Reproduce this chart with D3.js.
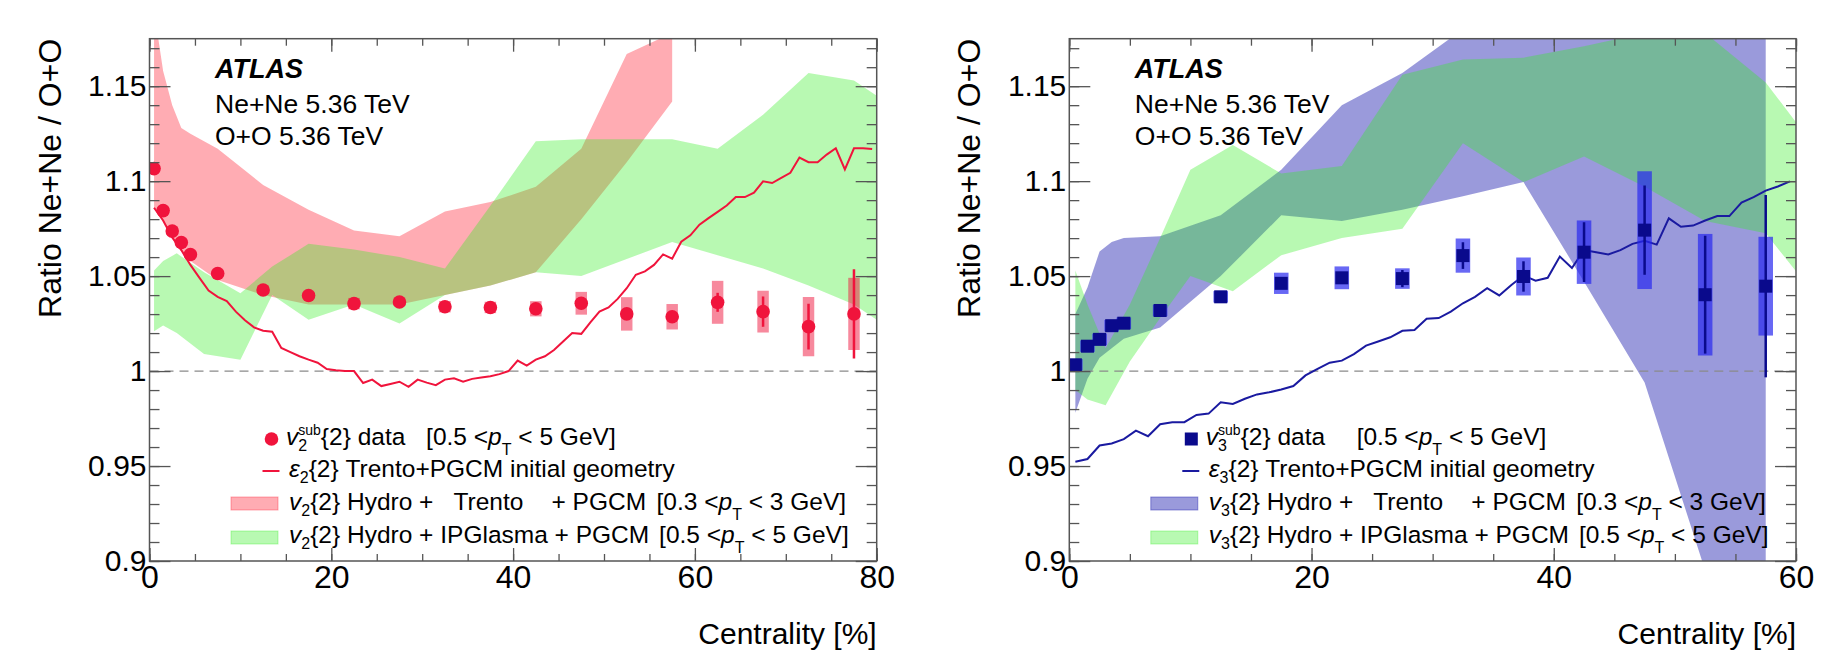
<!DOCTYPE html>
<html>
<head>
<meta charset="utf-8">
<script src="https://cdn.jsdelivr.net/npm/d3@7"></script>
<style>
body { margin: 0; background: #fff; }
text { font-family: "Liberation Sans", Arial, Helvetica, sans-serif; fill: #000; }
</style>
</head>
<body>
<script>
// ---- left panel: v2 ratio Ne+Ne / O+O ----
var v2Cent  = [0.5, 1.5, 2.5, 3.5, 4.5, 7.5, 12.5, 17.5, 22.5, 27.5, 32.5, 37.5, 42.5, 47.5, 52.5, 57.5, 62.5, 67.5, 72.5, 77.5];
var v2Ratio = [1.1066, 1.0845, 1.0737, 1.0677, 1.0614, 1.0514, 1.0427, 1.0398, 1.0355, 1.0364, 1.0339, 1.0335, 1.0328, 1.0357, 1.0301, 1.0286, 1.0362, 1.0313, 1.0234, 1.0301];
var v2Stat  = [0.001, 0.001, 0.001, 0.001, 0.001, 0.001, 0.001, 0.001, 0.001, 0.001, 0.001, 0.002, 0.002, 0.003, 0.003, 0.003, 0.005, 0.008, 0.012, 0.0235];
var v2Syst  = [0.002, 0.002, 0.002, 0.002, 0.002, 0.002, 0.002, 0.002, 0.003, 0.002, 0.003, 0.003, 0.004, 0.006, 0.0088, 0.0067, 0.0113, 0.011, 0.0156, 0.019];

// eps2{2} Trento+PGCM, 1% bins 0-80
var eps2 = [1.086, 1.0793, 1.0704, 1.0637, 1.0559, 1.0491, 1.0424, 1.0391, 1.0368, 1.0313,
            1.0268, 1.023, 1.0212, 1.0207, 1.0122, 1.01, 1.0078, 1.006, 1.0044, 1.0011,
            1.0004, 1.0, 1.0, 0.9937, 0.9955, 0.9921, 0.9932, 0.9944, 0.9917, 0.9955,
            0.9939, 0.9926, 0.9955, 0.9962, 0.9944, 0.9959, 0.9966, 0.9973, 0.9984, 1.0,
            1.0055, 1.0029, 1.006, 1.0078, 1.0111, 1.0156, 1.02, 1.0196, 1.0257, 1.0313,
            1.0335, 1.038, 1.0436, 1.0507, 1.0525, 1.0559, 1.0614, 1.0592, 1.0681, 1.0715,
            1.0771, 1.0805, 1.0838, 1.0872, 1.0916, 1.0916, 1.0939, 1.0999, 1.099, 1.1017,
            1.1044, 1.1124, 1.11, 1.11, 1.114, 1.1173, 1.1062, 1.1173, 1.1173, 1.1169];

// hydro + Trento + PGCM band (v2)
var trento2Cent = [0.5, 1.5, 2.5, 3.5, 4.5, 7.5, 12.5, 17.5, 22.5, 27.5, 32.5, 37.5, 42.5, 47.5, 52.5, 57.5];
var trento2Hi   = [1.19, 1.158, 1.14, 1.128, 1.125, 1.117, 1.098, 1.085, 1.074, 1.071, 1.084, 1.089, 1.097, 1.117, 1.167, 1.178];
var trento2Lo   = [1.086, 1.079, 1.07, 1.063, 1.058, 1.048, 1.040, 1.035, 1.035, 1.035, 1.040, 1.045, 1.052, 1.08, 1.11, 1.142];

// hydro + IPGlasma + PGCM band (v2)
var ipg2Cent = [0.5, 1.5, 3, 6, 10, 13.5, 17.5, 22.5, 27.5, 32.5, 37.5, 42.5, 47.5, 52.5, 57.5, 62.5, 67.5, 72.5, 77.5, 80];
var ipg2Hi   = [1.053, 1.058, 1.062, 1.052, 1.041, 1.055, 1.067, 1.064, 1.06, 1.054, 1.087, 1.121, 1.122, 1.122, 1.122, 1.117, 1.135, 1.157, 1.153, 1.145];
var ipg2Lo   = [1.021, 1.024, 1.02, 1.009, 1.006, 1.04, 1.027, 1.035, 1.025, 1.04, 1.045, 1.052, 1.05, 1.059, 1.068, 1.061, 1.054, 1.045, 1.035, 1.027];

// ---- right panel: v3 ratio ----
var v3Cent  = [0.5, 1.5, 2.5, 3.5, 4.5, 7.5, 12.5, 17.5, 22.5, 27.5, 32.5, 37.5, 42.5, 47.5, 52.5, 57.5];
var v3Ratio = [1.0033, 1.0131, 1.0167, 1.0239, 1.0252, 1.0319, 1.0391, 1.0462, 1.0491, 1.0487, 1.0608, 1.0498, 1.0626, 1.0742, 1.0402, 1.0447];
var v3Stat  = [0.001, 0.001, 0.001, 0.001, 0.001, 0.001, 0.001, 0.002, 0.003, 0.0045, 0.007, 0.008, 0.0157, 0.0235, 0.031, 0.048];
var v3Syst  = [0.003, 0.003, 0.003, 0.003, 0.003, 0.003, 0.003, 0.0056, 0.006, 0.0054, 0.009, 0.01, 0.0167, 0.031, 0.032, 0.026];

// eps3{2} Trento+PGCM, 1% bins 0-60
var eps3 = [0.9523, 0.9537, 0.9608, 0.9619, 0.9642, 0.9686, 0.9657, 0.972, 0.9731, 0.9731,
            0.9769, 0.9776, 0.9836, 0.9827, 0.9854, 0.9877, 0.9888, 0.9903, 0.9921, 0.9977,
            1.0011, 1.0044, 1.0055, 1.0089, 1.0134, 1.0156, 1.0178, 1.0212, 1.0216, 1.0275,
            1.0279, 1.0313, 1.0357, 1.0391, 1.0436, 1.0398, 1.0453, 1.0503, 1.0476, 1.0491,
            1.0603, 1.0543, 1.0637, 1.0626, 1.0614, 1.0637, 1.067, 1.0686, 1.0666, 1.0804,
            1.076, 1.0766, 1.0793, 1.0816, 1.0816, 1.0887, 1.0916, 1.095, 1.0972, 1.0999];

var trento3Cent = [0.5, 1.5, 2.5, 3.5, 4.5, 7.5, 12.5, 17.5, 22.5, 27.5, 32.5, 37.5, 42.5, 47.5, 52.5, 57.5];
var trento3Hi   = [1.03, 1.044, 1.063, 1.068, 1.07, 1.071, 1.082, 1.106, 1.14, 1.157, 1.18, 1.2, 1.2, 1.2, 1.2, 1.2];
var trento3Lo   = [0.978, 0.996, 1.007, 1.012, 1.017, 1.023, 1.05, 1.082, 1.079, 1.085, 1.092, 1.0995, 1.047, 0.994, 0.895, 0.85];

var ipg3Cent = [0.5, 1.5, 3, 5, 7.5, 10, 13.5, 17.5, 22.5, 27.5, 32.5, 37.5, 42.5, 47.5, 52.5, 57.5, 60];
var ipg3Hi   = [1.053, 1.035, 1.012, 1.035, 1.07, 1.106, 1.119, 1.104, 1.108, 1.156, 1.164, 1.165, 1.171, 1.178, 1.178, 1.152, 1.131];
var ipg3Lo   = [0.99, 0.985, 0.982, 1.005, 1.028, 1.05, 1.042, 1.061, 1.07, 1.075, 1.12, 1.0995, 1.113, 1.097, 1.079, 1.0726, 1.0525];

var yTicks = [0.9, 0.95, 1, 1.05, 1.1, 1.15];

var W = 1829, H = 664;
var yTop = 38.7, yBottom = 561;

var svg = d3.select("body").append("svg")
            .attr("width", W)
            .attr("height", H);
svg.append("rect").attr("width", W).attr("height", H).attr("fill", "#fff");

function zip(c, a, b) {
  return c.map(function(d, i) { return {c: d, v: a[i], e: b ? b[i] : 0}; });
}

// text with italic / sub / superscript pieces
function rich(g, x, yb, size, segs) {
  var t = g.append("text").attr("x", x).attr("y", yb)
           .attr("font-size", size).style("white-space", "pre");
  var cur = 0;
  segs.forEach(function(s) {
    var ts = t.append("tspan").text(s.t);
    var off = s.off || 0;
    if (off !== cur) ts.attr("dy", off - cur);
    cur = off;
    if (s.x != null) ts.attr("x", s.x);
    if (s.dx) ts.attr("dx", s.dx);
    if (s.size) ts.attr("font-size", s.size);
    if (s.it) ts.attr("font-style", "italic");
  });
  return t;
}

function drawPanel(p) {
  var L = p.left;
  var x = d3.scaleLinear().domain([0, p.xmax]).range([p.left, p.right]);
  var y = d3.scaleLinear().domain([0.9, 1.175]).range([yBottom, yTop]);
  var g = svg.append("g");

  g.append("clipPath").attr("id", "clip" + p.id)
   .append("rect").attr("x", p.left).attr("y", yTop)
   .attr("width", p.right - p.left).attr("height", yBottom - yTop);
  var plot = g.append("g").attr("clip-path", "url(#clip" + p.id + ")");

  var area = d3.area()
    .x(function(d) { return x(d.c); })
    .y0(function(d) { return y(d.lo); })
    .y1(function(d) { return y(d.hi); });

  p.bands.forEach(function(b) {
    var pts = b.cent.map(function(c, i) { return {c: c, hi: b.hi[i], lo: b.lo[i]}; });
    plot.append("path").datum(pts).attr("d", area)
        .attr("fill", b.color).attr("fill-opacity", b.op);
  });

  // reference line at 1
  plot.append("line")
      .attr("x1", x(0)).attr("x2", x(p.xmax))
      .attr("y1", y(1)).attr("y2", y(1))
      .attr("stroke", "#8a8a8a").attr("stroke-width", 1.2)
      .attr("stroke-dasharray", "9,6");

  // initial geometry eccentricity line
  var epsPts = p.eps.map(function(v, i) { return {c: i + 0.5, v: v}; });
  plot.append("path").datum(epsPts)
      .attr("d", d3.line().x(function(d) { return x(d.c); }).y(function(d) { return y(d.v); }))
      .attr("fill", "none").attr("stroke", p.lineColor).attr("stroke-width", 2);

  // data: systematic boxes
  var syst = zip(p.cent, p.ratio, p.syst);
  plot.selectAll("rect.syst").data(syst).enter().append("rect")
      .attr("class", "syst")
      .attr("x", function(d) { return x(d.c - p.boxHalf); })
      .attr("width", function(d) { return x(d.c + p.boxHalf) - x(d.c - p.boxHalf); })
      .attr("y", function(d) { return y(d.v + d.e); })
      .attr("height", function(d) { return y(d.v - d.e) - y(d.v + d.e); })
      .attr("fill", p.boxColor).attr("fill-opacity", p.boxOp);

  // stat bars
  var stat = zip(p.cent, p.ratio, p.stat);
  plot.selectAll("line.stat").data(stat).enter().append("line")
      .attr("x1", function(d) { return x(d.c); })
      .attr("x2", function(d) { return x(d.c); })
      .attr("y1", function(d) { return y(d.v + d.e); })
      .attr("y2", function(d) { return y(d.v - d.e); })
      .attr("stroke", p.markColor).attr("stroke-width", 2.5);

  // markers
  if (p.marker === "circle") {
    plot.selectAll("circle.pt").data(stat).enter().append("circle")
        .attr("cx", function(d) { return x(d.c); })
        .attr("cy", function(d) { return y(d.v); })
        .attr("r", 6.8).attr("fill", p.markColor);
  } else {
    plot.selectAll("rect.pt").data(stat).enter().append("rect")
        .attr("x", function(d) { return x(d.c) - 6.5; })
        .attr("y", function(d) { return y(d.v) - 6.5; })
        .attr("width", 13).attr("height", 13).attr("fill", p.markColor);
  }

  // axes: ticks inside on all four sides
  var xMajor = d3.range(0, p.xmax + 1, 20);
  var xMinor = d3.range(0, p.xmax + 1, 5);
  var yMinor = d3.range(0, 28).map(function(i) { return 0.9 + i * 0.01; });
  var axColor = "#555";

  function tickStyle(sel) {
    sel.select(".domain").remove();
    sel.selectAll(".tick line").attr("stroke", axColor).attr("stroke-width", 1.3);
  }

  g.append("g").attr("transform", "translate(0," + yBottom + ")")
   .call(d3.axisBottom(x).tickValues(xMinor).tickSize(-7).tickFormat("")).call(tickStyle);
  g.append("g").attr("transform", "translate(0," + yTop + ")")
   .call(d3.axisTop(x).tickValues(xMinor).tickSize(-7).tickFormat("")).call(tickStyle);
  g.append("g").attr("transform", "translate(0," + yTop + ")")
   .call(d3.axisTop(x).tickValues(xMajor).tickSize(-13).tickFormat("")).call(tickStyle);
  var xb = g.append("g").attr("transform", "translate(0," + yBottom + ")")
   .call(d3.axisBottom(x).tickValues(xMajor).tickSize(-13).tickPadding(4).tickFormat(d3.format("d")))
   .call(tickStyle);
  xb.selectAll("text").attr("font-size", 32).attr("fill", "#000")
    .attr("font-family", "Liberation Sans, Arial, sans-serif");

  g.append("g").attr("transform", "translate(" + p.left + ",0)")
   .call(d3.axisLeft(y).tickValues(yMinor).tickSize(-10).tickFormat("")).call(tickStyle);
  g.append("g").attr("transform", "translate(" + p.right + ",0)")
   .call(d3.axisRight(y).tickValues(yMinor).tickSize(-10).tickFormat("")).call(tickStyle);
  g.append("g").attr("transform", "translate(" + p.right + ",0)")
   .call(d3.axisRight(y).tickValues(yTicks).tickSize(-21).tickFormat("")).call(tickStyle);
  var yl = g.append("g").attr("transform", "translate(" + p.left + ",0)")
   .call(d3.axisLeft(y).tickValues(yTicks).tickSize(-21).tickPadding(3).tickFormat(d3.format("~g")))
   .call(tickStyle);
  yl.selectAll("text").attr("font-size", 30).attr("fill", "#000")
    .attr("font-family", "Liberation Sans, Arial, sans-serif");

  g.append("rect").attr("x", p.left).attr("y", yTop)
   .attr("width", p.right - p.left).attr("height", yBottom - yTop)
   .attr("fill", "none").attr("stroke", axColor).attr("stroke-width", 1.5);

  // axis titles
  g.append("text").attr("x", p.right).attr("y", 644)
   .attr("text-anchor", "end").attr("font-size", 30).text("Centrality [%]");
  g.append("text").attr("transform", "translate(" + (L - 89) + "," + yTop + ") rotate(-90)")
   .attr("text-anchor", "end").attr("font-size", 32).text("Ratio Ne+Ne / O+O");

  // ATLAS label
  g.append("text").attr("x", L + 65.5).attr("y", 78).attr("font-size", 27)
   .attr("font-weight", "bold").attr("font-style", "italic").text("ATLAS");
  g.append("text").attr("x", L + 65.5).attr("y", 113).attr("font-size", 26.5).text("Ne+Ne 5.36 TeV");
  g.append("text").attr("x", L + 65.5).attr("y", 145).attr("font-size", 26.5).text("O+O 5.36 TeV");

  // legend
  var fs = 24.5, ss = 16, n = p.n;
  if (p.marker === "circle") {
    g.append("circle").attr("cx", L + 122).attr("cy", 439).attr("r", 6.8).attr("fill", p.markColor);
  } else {
    g.append("rect").attr("x", L + 115.5).attr("y", 432.5).attr("width", 13).attr("height", 13).attr("fill", p.markColor);
  }
  g.append("line").attr("x1", L + 113).attr("x2", L + 130).attr("y1", 471).attr("y2", 471)
   .attr("stroke", p.lineColor).attr("stroke-width", 2);
  p.bands.forEach(function(b, i) {
    g.append("rect").attr("x", L + 81.5).attr("y", 497 + i * 34).attr("width", 47).attr("height", 13)
     .attr("fill", b.color).attr("fill-opacity", b.op)
     .attr("stroke", b.color).attr("stroke-opacity", b.op);
  });

  rich(g, L + 136.5, 445, fs, [
    {t: "v", it: true}, {t: "sub", size: 14, off: -10}, {t: n, size: ss, off: 6, dx: -22.6},
    {t: "{2} data", off: 0, dx: 13.7},
    {t: "[0.5 <", x: L + p.row1x}, {t: "p", it: true}, {t: "T", size: ss, off: 10},
    {t: " < 5 GeV]", off: 0}
  ]);
  rich(g, L + 139.5, 477, fs, [
    {t: "\u03b5", it: true}, {t: n, size: ss, off: 6}, {t: "{2} Trento+PGCM initial geometry", off: 0}
  ]);
  rich(g, L + 139.5, 510, fs, [
    {t: "v", it: true}, {t: n, size: ss, off: 6}, {t: "{2} Hydro +", off: 0},
    {t: "Trento", x: L + 304}, {t: "+ PGCM", x: L + 402},
    {t: "[0.3 <", x: L + 507}, {t: "p", it: true}, {t: "T", size: ss, off: 10},
    {t: " < 3 GeV]", off: 0}
  ]);
  rich(g, L + 139.5, 543, fs, [
    {t: "v", it: true}, {t: n, size: ss, off: 6}, {t: "{2} Hydro + IPGlasma + PGCM", off: 0},
    {t: "[0.5 <", x: L + 509.6}, {t: "p", it: true}, {t: "T", size: ss, off: 10},
    {t: " < 5 GeV]", off: 0}
  ]);
}

drawPanel({
  id: 1, n: "2", left: 149.5, right: 876.7, xmax: 80,
  cent: v2Cent, ratio: v2Ratio, stat: v2Stat, syst: v2Syst, eps: eps2,
  marker: "circle", markColor: "#f0143c", lineColor: "#f0143c",
  boxColor: "#f0143c", boxOp: 0.5, boxHalf: 0.63, row1x: 276.6,
  bands: [
    {cent: trento2Cent, hi: trento2Hi, lo: trento2Lo, color: "#ff3040", op: 0.4},
    {cent: ipg2Cent, hi: ipg2Hi, lo: ipg2Lo, color: "#33ee22", op: 0.35}
  ]
});

drawPanel({
  id: 2, n: "3", left: 1069.3, right: 1796, xmax: 60,
  cent: v3Cent, ratio: v3Ratio, stat: v3Stat, syst: v3Syst, eps: eps3,
  marker: "square", markColor: "#0a0a8c", lineColor: "#1a1aa0",
  boxColor: "#2828f0", boxOp: 0.7, boxHalf: 0.6, row1x: 287.4,
  bands: [
    {cent: trento3Cent, hi: trento3Hi, lo: trento3Lo, color: "#2020b0", op: 0.45},
    {cent: ipg3Cent, hi: ipg3Hi, lo: ipg3Lo, color: "#33ee22", op: 0.35}
  ]
});
</script>
</body>
</html>
